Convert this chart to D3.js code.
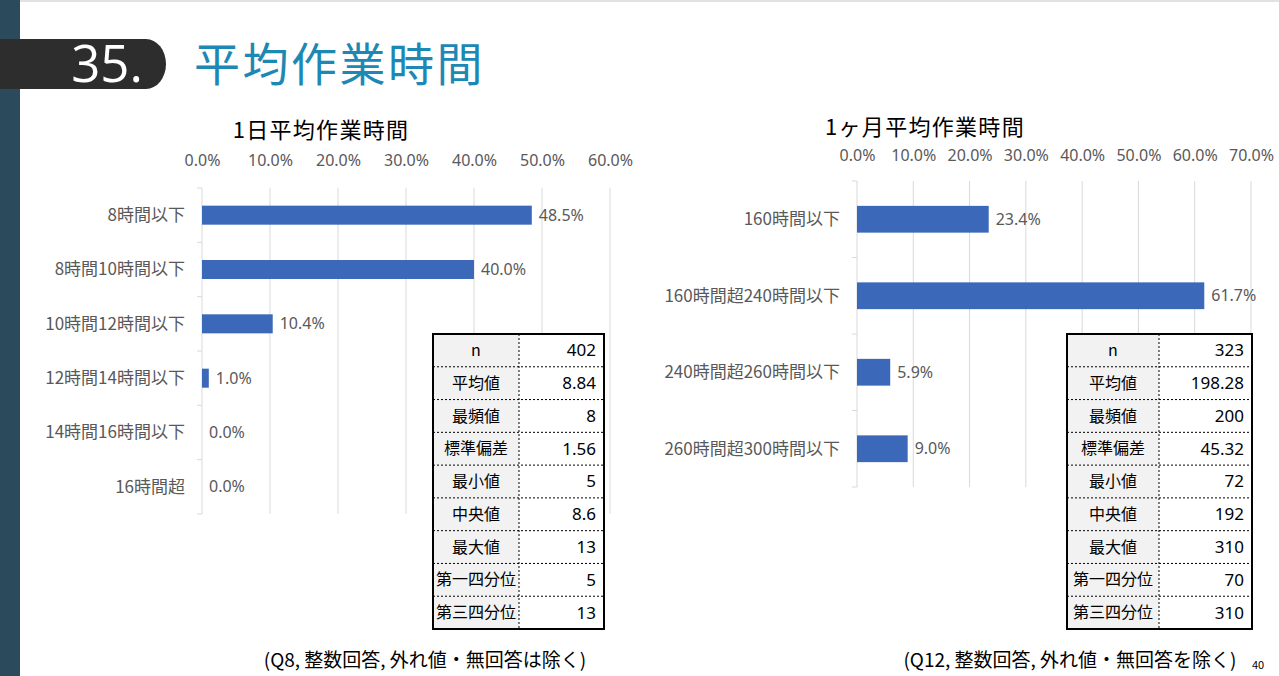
<!DOCTYPE html>
<html><head><meta charset="utf-8">
<script src="https://cdn.jsdelivr.net/npm/d3@7"></script>
<style>
html,body{margin:0;padding:0;background:#fff;}
svg{display:block;font-family:"Noto Sans CJK JP","Noto Sans",sans-serif;}
</style></head>
<body>
<svg id="c" width="1279" height="676"></svg>
<script>
const pageNumber = "35.";
const pageTitle = "平均作業時間";
const dailyTitle = "1日平均作業時間";
const dailyCats = ["8時間以下","8時間10時間以下","10時間12時間以下","12時間14時間以下","14時間16時間以下","16時間超"];
const dailyVals = [48.5, 40.0, 10.4, 1.0, 0.0, 0.0];
const dailyTicks = [0,10,20,30,40,50,60];
const monthlyTitle = "1ヶ月平均作業時間";
const monthlyCats = ["160時間以下","160時間超240時間以下","240時間超260時間以下","260時間超300時間以下"];
const monthlyVals = [23.4, 61.7, 5.9, 9.0];
const monthlyTicks = [0,10,20,30,40,50,60,70];
const statLabels = ["n","平均値","最頻値","標準偏差","最小値","中央値","最大値","第一四分位","第三四分位"];
const dailyStats = ["402","8.84","8","1.56","5","8.6","13","5","13"];
const monthlyStats = ["323","198.28","200","45.32","72","192","310","70","310"];
const dailyNote = "(Q8, 整数回答, 外れ値・無回答は除く)";
const monthlyNote = "(Q12, 整数回答, 外れ値・無回答を除く)";
const pageNo = "40";

const svg = d3.select("#c");
const GRAY = "#595959", GRID = "#d9d9d9", BAR = "#3b68b8";

// frame
svg.append("rect").attr("x",0).attr("y",0).attr("width",1279).attr("height",2).attr("fill","#e2e2e2");
svg.append("rect").attr("x",0).attr("y",0).attr("width",20).attr("height",676).attr("fill","#2b4a5c");
svg.append("path").attr("d","M0,39 H146 A20,25 0 0 1 166,64 A20,25 0 0 1 146,89 H0 Z").attr("fill","#2d2d2d");
svg.append("text").attr("x",107).attr("y",82).attr("text-anchor","middle").attr("fill","#fff")
  .attr("font-size",51).attr("font-family","'Open Sans','Noto Sans',sans-serif").text(pageNumber);
svg.append("text").attr("x",194).attr("y",81).attr("fill","#1e88b5").attr("font-size",46)
  .attr("letter-spacing",2.5).text(pageTitle);

function chart(o){
  const g = svg.append("g");
  const x = d3.scaleLinear().domain([0, o.max]).range([o.x0, o.x1]);
  const y = d3.scaleBand().domain(o.cats).range([o.y0, o.y1]).paddingInner(0.65).paddingOuter(0.325);
  g.append("text").attr("x",o.tx).attr("y",o.ty).attr("text-anchor","middle").attr("fill","#000")
    .attr("font-size",22).attr("letter-spacing",1.3).attr("dominant-baseline","central").text(o.title);
  // gridlines
  g.selectAll(".grid").data(o.ticks.slice(1)).join("line")
    .attr("x1",d=>x(d)).attr("x2",d=>x(d)).attr("y1",o.y0).attr("y2",o.y1)
    .attr("stroke",GRID).attr("stroke-width",1);
  // top axis labels
  const ax = d3.axisTop(x).tickValues(o.ticks).tickFormat(d=>d.toFixed(1)+"%").tickSize(0);
  const axg = g.append("g").attr("transform",`translate(0,${o.lty})`).call(ax);
  axg.select(".domain").remove();
  axg.selectAll("text").attr("fill",GRAY).attr("font-size",16).attr("dy","0.35em")
    .attr("font-family","'Noto Sans',sans-serif");
  // left axis
  const step = (o.y1-o.y0)/o.cats.length;
  g.append("line").attr("x1",x(0)).attr("x2",x(0)).attr("y1",o.y0).attr("y2",o.y1).attr("stroke",GRID);
  g.selectAll(".tk").data(d3.range(o.cats.length+1)).join("line")
    .attr("x1",x(0)-5).attr("x2",x(0)).attr("y1",i=>o.y0+i*step).attr("y2",i=>o.y0+i*step).attr("stroke",GRID);
  g.selectAll(".cl").data(o.cats).join("text")
    .attr("x",x(0)-17).attr("y",d=>y(d)+y.bandwidth()/2).attr("dy","0.35em")
    .attr("text-anchor","end").attr("fill",GRAY).attr("font-size",17).text(d=>d);
  // bars
  g.selectAll(".bar").data(o.vals).join("rect")
    .attr("x",x(0)).attr("y",(d,i)=>y(o.cats[i])).attr("height",y.bandwidth())
    .attr("width",d=>x(d)-x(0)).attr("fill",BAR);
  g.selectAll(".vl").data(o.vals).join("text")
    .attr("x",d=>x(d)+7).attr("y",(d,i)=>y(o.cats[i])+y.bandwidth()/2).attr("dy","0.35em")
    .attr("fill",GRAY).attr("font-size",16).attr("font-family","'Noto Sans',sans-serif")
    .text(d=>d.toFixed(1)+"%");
  // table
  const t = o.table, rh = (t.y1-t.y0)/statLabels.length;
  const tg = svg.append("g");
  tg.append("rect").attr("x",t.x0).attr("y",t.y0).attr("width",t.x1-t.x0).attr("height",t.y1-t.y0).attr("fill","#fff");
  tg.append("rect").attr("x",t.x0).attr("y",t.y0).attr("width",t.xm-t.x0).attr("height",t.y1-t.y0).attr("fill","#f2f2f2");
  tg.selectAll(".hl").data(d3.range(1,statLabels.length)).join("line")
    .attr("x1",t.x0).attr("x2",t.x1).attr("y1",i=>t.y0+i*rh).attr("y2",i=>t.y0+i*rh)
    .attr("stroke","#000").attr("stroke-dasharray","2,2").attr("stroke-width",1);
  tg.append("line").attr("x1",t.xm).attr("x2",t.xm).attr("y1",t.y0).attr("y2",t.y1)
    .attr("stroke","#000").attr("stroke-dasharray","2,2").attr("stroke-width",1);
  tg.append("rect").attr("x",t.x0).attr("y",t.y0).attr("width",t.x1-t.x0).attr("height",t.y1-t.y0)
    .attr("fill","none").attr("stroke","#000").attr("stroke-width",2);
  tg.selectAll(".sl").data(statLabels).join("text")
    .attr("x",(t.x0+t.xm)/2).attr("y",(d,i)=>t.y0+(i+0.5)*rh).attr("dy","0.35em")
    .attr("text-anchor","middle").attr("fill","#000").attr("font-size",16).text(d=>d);
  tg.selectAll(".sv").data(o.stats).join("text")
    .attr("x",t.x1-8).attr("y",(d,i)=>t.y0+(i+0.5)*rh).attr("dy","0.35em")
    .attr("text-anchor","end").attr("fill","#000").attr("font-size",17)
    .attr("font-family","'Noto Sans',sans-serif").text(d=>d);
  svg.append("text").attr("x",o.nx).attr("y",660).attr("dy","0.35em").attr("text-anchor","middle")
    .attr("fill","#000").attr("font-size",19).text(o.note);
}

chart({title:dailyTitle, tx:321, ty:128, cats:dailyCats, vals:dailyVals, ticks:dailyTicks, max:60,
  x0:202, x1:610, y0:188, y1:514, lty:163,
  table:{x0:433,x1:604,xm:519,y0:334,y1:629}, stats:dailyStats, note:dailyNote, nx:425});
chart({title:monthlyTitle, tx:925, ty:125, cats:monthlyCats, vals:monthlyVals, ticks:monthlyTicks, max:70,
  x0:857, x1:1251, y0:181, y1:487, lty:158,
  table:{x0:1067,x1:1252,xm:1159,y0:334,y1:629}, stats:monthlyStats, note:monthlyNote, nx:1070});
svg.append("text").attr("x",1258).attr("y",665).attr("dy","0.35em").attr("text-anchor","middle")
  .attr("font-size",11).attr("fill","#000").text(pageNo);
</script>
</body></html>
